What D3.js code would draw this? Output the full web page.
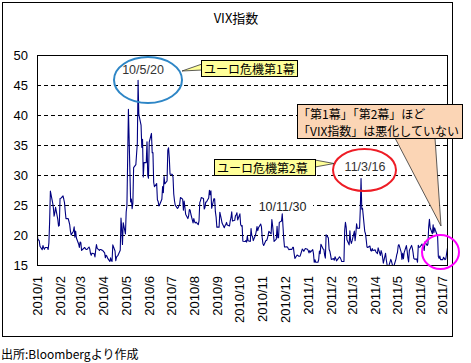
<!DOCTYPE html>
<html><head><meta charset="utf-8">
<script src="https://cdn.jsdelivr.net/npm/d3@7"></script>
<style>
html,body{margin:0;padding:0;background:#fff;}
svg text{font-family:"Noto Sans CJK JP","Noto Sans",sans-serif;}
svg text.num{font-family:"Liberation Sans",Arial,sans-serif;}
</style></head>
<body><svg id="c" width="471" height="363"></svg>
<script>
// Daily VIX closes, one value per weekday starting 2010-01-04 (holidays carry previous close)
const startDate = "2010-01-04";
const vix2010 = [
 20.8,19.35,19.16,19.06,18.13,17.55,18.25,17.85,17.63,17.91,17.91,17.58,18.68,22.27,27.31,25.41,24.55,23.14,23.73,24.62,
 22.59,21.48,21.60,26.08,26.11,26.51,26.00,25.40,23.96,22.73,22.73,22.25,21.72,20.63,20.02,20.64,21.37,19.63,20.67,19.50,
 18.51,17.93,18.83,18.72,17.42,17.79,17.92,17.78,17.58,17.58,18.00,17.69,16.91,16.62,16.97,16.87,16.35,17.55,18.40,17.77,17.43,17.59,17.59,
 17.47,17.47,17.02,16.20,16.62,16.47,16.14,15.58,16.19,15.72,15.61,18.36,17.34,15.73,16.32,16.47,16.62,17.47,22.81,21.08,18.44,22.05,
 20.19,23.84,24.91,32.80,40.95,25.52,26.00,24.40,25.31,31.24,31.72,33.55,35.32,45.79,40.10,38.32,34.61,35.93,29.68,32.07,32.07,
 35.54,29.94,29.46,35.48,36.93,33.70,33.73,28.79,28.04,28.58,25.87,25.59,24.83,25.05,25.95,28.06,27.05,29.74,28.53,29.00,34.13,34.54,
 32.86,30.12,30.12,29.65,26.84,25.71,24.98,24.43,24.56,24.89,25.14,26.25,25.97,24.13,25.64,24.63,23.47,22.73,23.19,24.25,24.13,23.50,
 22.01,22.75,22.21,22.01,22.14,21.74,22.37,25.39,25.73,26.24,26.10,24.33,24.59,25.49,25.49,26.15,27.46,26.70,27.37,24.45,26.05,26.05,
 23.89,22.98,21.31,21.31,23.80,23.25,22.66,21.99,21.21,21.56,21.72,22.10,21.67,21.50,22.35,22.88,23.87,22.33,22.45,23.19,23.37,23.70,
 22.50,23.53,21.76,21.49,21.56,18.96,18.91,19.07,18.82,19.88,19.03,18.93,21.09,19.92,19.74,19.07,20.00,20.59,21.40,20.71,21.20,
 21.83,21.37,19.56,18.52,18.26,19.08,19.08,19.44,19.99,20.61,20.20,22.58,21.56,20.34,18.94,19.32,21.47,19.56,19.56,22.10,22.32,23.54,
 21.36,19.39,18.01,18.02,17.99,17.74,17.55,17.61,17.61,17.94,17.94,16.88,16.11,16.66,16.60,16.47,16.47,16.47,17.67,17.52,17.28,17.52,17.75
];
const vix2011 = [
 17.61,17.38,17.02,17.40,17.14,17.55,16.89,15.46,15.87,15.46,15.46,15.87,17.31,16.90,18.47,17.65,17.59,16.64,16.15,20.04,19.53,
 17.63,17.30,16.69,15.93,16.06,15.81,16.37,16.09,15.69,16.19,16.37,16.23,15.94,15.59,15.59,20.80,22.13,21.32,19.22,18.35,
 20.70,19.06,18.60,19.06,20.66,19.06,20.22,21.88,21.13,21.13,24.32,29.40,24.32,24.44,20.61,20.21,19.17,18.00,17.91,18.16,17.45,17.33,17.74,
 17.40,17.52,17.20,17.04,16.90,17.87,16.59,17.41,16.97,16.27,15.32,16.96,15.83,15.07,14.69,14.69,15.94,15.62,15.11,14.62,14.75,
 15.99,16.70,17.08,18.20,18.40,17.16,15.91,16.95,16.03,17.07,18.24,17.36,16.23,15.52,17.43,18.27,17.82,17.07,16.09,15.98,15.98,15.45,
 18.30,17.95,17.95,18.49,17.99,18.07,17.41,18.86,18.26,18.50,21.32,22.60,21.20,20.20,21.70,20.40,21.20,20.80,19.80,16.40,16.10,16.50,
 15.90,15.90,16.30,16.10,15.90,16.00,18.40
];
const yTicks = [15,20,25,30,35,40,45,50];
const gridValues = [20,25,30,35,40,45];
const monthCount = 19;
const title = "VIX指数";
const source = "出所:Bloombergより作成";
const note1 = "ユーロ危機第1幕", note2 = "ユーロ危機第2幕";
const note3 = ["「第1幕」「第2幕」ほど","「VIX指数」は悪化していない"];
const peak1 = "10/5/20", peak2 = "11/3/16", peak3 = "10/11/30";

// build dated series (weekdays)
const values = vix2010.concat(vix2011);
const parse = d3.timeParse("%Y-%m-%d");
let d = parse(startDate);
const data = [];
for (const v of values) {
  while (d.getDay() === 0 || d.getDay() === 6) d = d3.timeDay.offset(d, 1);
  data.push({date: d, v});
  d = d3.timeDay.offset(d, 1);
}

const svg = d3.select("#c");
const L = 37, R = 448, T = 55, B = 265;
const x = d3.scaleTime().domain([data[0].date, data[data.length-1].date]).range([L, R]);
const y = d3.scaleLinear().domain([15, 50]).range([B, T]);

// outer frame
svg.append("rect").attr("x",2.5).attr("y",2.5).attr("width",450).attr("height",334)
  .attr("fill","#fff").attr("stroke","#000").attr("stroke-width",1);

svg.append("text").attr("x",236).attr("y",17).attr("text-anchor","middle")
  .attr("dominant-baseline","central").attr("font-size",13).text(title);

// gridlines
svg.append("g").selectAll("line").data(gridValues).join("line")
  .attr("x1",L).attr("x2",R).attr("y1",v=>Math.round(y(v))+0.5).attr("y2",v=>Math.round(y(v))+0.5)
  .attr("stroke","#000").attr("stroke-width",1).attr("stroke-dasharray","4,3");

// y labels
svg.append("g").selectAll("text").data(yTicks).join("text").attr("class","num")
  .attr("x",28).attr("y",v=>y(v)).attr("text-anchor","end").attr("dominant-baseline","central")
  .attr("font-size",13).text(v=>v);

// x labels
const tickDates = d3.range(monthCount).map(k => d3.timeMonth.offset(data[0].date, k));
const fmt = d3.timeFormat("%Y/%-m");
svg.append("g").selectAll("text").data(tickDates).join("text").attr("class","num")
  .attr("transform",t=>`translate(${x(t)},276) rotate(-90)`)
  .attr("text-anchor","end").attr("dominant-baseline","central")
  .attr("font-size",13).text(t=>fmt(t));

// 10/11/30 label with white background
svg.append("rect").attr("x",253).attr("y",199).attr("width",60).attr("height",14).attr("fill","#fff");
svg.append("text").attr("class","num").attr("x",282.5).attr("y",206.5).attr("text-anchor","middle").attr("dominant-baseline","central")
  .attr("font-size",12.5).attr("fill","#222").text(peak3);

// line
svg.append("clipPath").attr("id","pc").append("rect").attr("x",L).attr("y",T).attr("width",R-L).attr("height",B-T);
svg.append("path").datum(data).attr("clip-path","url(#pc)")
  .attr("fill","none").attr("stroke","#000080").attr("stroke-width",1.1).attr("stroke-linejoin","round")
  .attr("d", d3.line().x(p=>x(p.date)).y(p=>y(p.v)));

// plot frame
svg.append("rect").attr("x",L+0.5).attr("y",T+0.5).attr("width",R-L-1).attr("height",B-T)
  .attr("fill","none").attr("stroke","#000").attr("stroke-width",1);

// peak labels and ellipses
svg.append("text").attr("class","num").attr("x",143).attr("y",69.5).attr("text-anchor","middle").attr("dominant-baseline","central")
  .attr("font-size",12.5).attr("fill","#333").text(peak1);
svg.append("ellipse").attr("cx",148).attr("cy",80).attr("rx",34).attr("ry",23)
  .attr("fill","none").attr("stroke","#2E86C6").attr("stroke-width",2);

svg.append("text").attr("class","num").attr("x",365).attr("y",167).attr("text-anchor","middle").attr("dominant-baseline","central")
  .attr("font-size",12.5).attr("fill","#333").text(peak2);
svg.append("ellipse").attr("cx",364.5).attr("cy",170).attr("rx",31.5).attr("ry",21)
  .attr("fill","none").attr("stroke","#EE1C25").attr("stroke-width",2);

svg.append("ellipse").attr("cx",440.5).attr("cy",252).attr("rx",18.5).attr("ry",17)
  .attr("fill","none").attr("stroke","#FF00FF").attr("stroke-width",2);

// callout 1
svg.append("polygon").attr("points","202,64 182,71 202,70").attr("fill","#FFFF99").attr("stroke","#333").attr("stroke-width",0.8);
svg.append("rect").attr("x",201.5).attr("y",60.5).attr("width",96).attr("height",16)
  .attr("fill","#FFFF99").attr("stroke","#000").attr("stroke-width",1);
svg.append("text").attr("x",204).attr("y",68.5).attr("dominant-baseline","central").attr("font-size",12).text(note1);

// callout 2
svg.append("polygon").attr("points","315,160 334,163.5 315,167").attr("fill","#FFFF99").attr("stroke","#333").attr("stroke-width",0.8);
svg.append("rect").attr("x",214.5).attr("y",159.5).attr("width",101).attr("height",16)
  .attr("fill","#FFFF99").attr("stroke","#000").attr("stroke-width",1);
svg.append("text").attr("x",217).attr("y",167.5).attr("dominant-baseline","central").attr("font-size",12).text(note2);

// callout 3
svg.append("polygon").attr("points","395,138 441,226 435,138").attr("fill","#FBD5B5").attr("stroke","#333").attr("stroke-width",0.8);
svg.append("rect").attr("x",297.5).attr("y",104.5).attr("width",165).attr("height",34)
  .attr("fill","#FBD5B5").attr("stroke","#000").attr("stroke-width",1);
svg.append("text").attr("x",298).attr("y",113.5).attr("dominant-baseline","central").attr("font-size",12).text(note3[0]);
svg.append("text").attr("x",298).attr("y",130).attr("dominant-baseline","central").attr("font-size",12).text(note3[1]);

// source
svg.append("text").attr("x",1).attr("y",353).attr("dominant-baseline","central").attr("font-size",12).text(source);
</script></body></html>
